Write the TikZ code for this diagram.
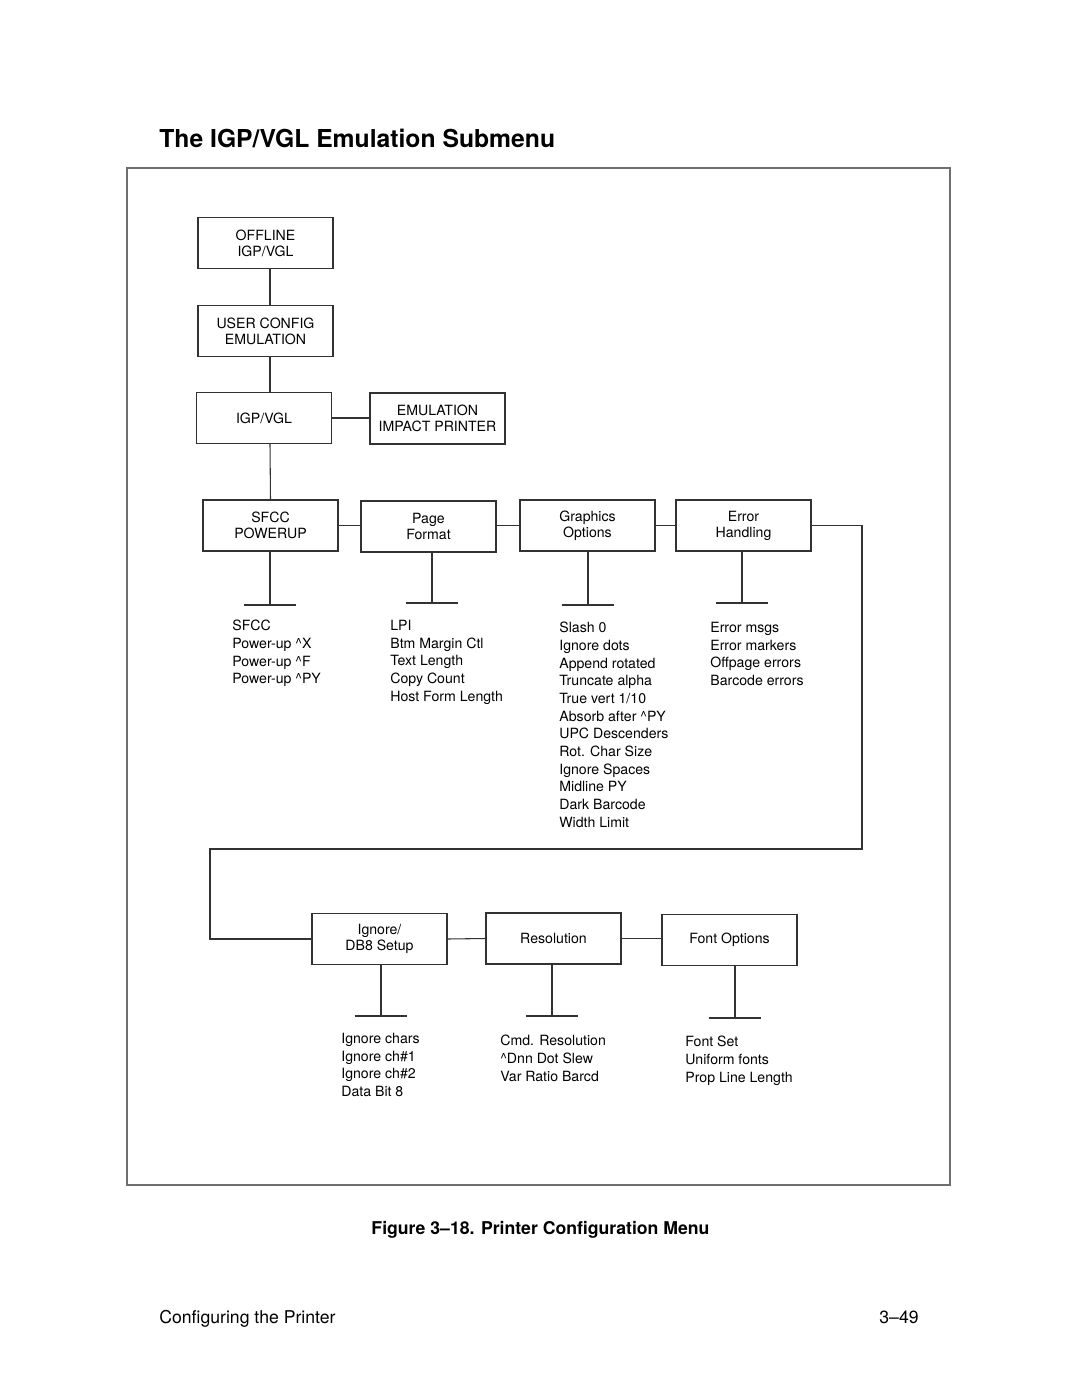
\documentclass[tikz,border=0pt]{standalone}
\usepackage{fontspec}
\setmainfont{TeX Gyre Heros}
\usetikzlibrary{positioning}
\usepackage{xcolor}
\definecolor{linegray}{RGB}{50,50,50}
\definecolor{framegray}{RGB}{110,110,110}
\tikzset{menubox/.style={draw=linegray, line width=0.6pt, minimum width=76.5pt, minimum height=28.9pt, inner sep=0pt, align=center, font=\fontsize{8}{9.1}\selectfont},itemlist/.style={anchor=north west, inner sep=0pt, align=left, font=\fontsize{8}{10}\selectfont}}
\tikzset{link/.style={draw=linegray, line width=0.6pt}}

\begin{document}
\begin{tikzpicture}[x=0.5667pt, y=-0.5667pt]
        \useasboundingbox (0,0) rectangle (1080,1397);
        % Page texts
        \node[anchor=base west, inner sep=0pt, font=\fontsize{14}{16}\selectfont\bfseries] (title) at (159,147) {The IGP/VGL Emulation Submenu};
        \node[anchor=base, inner sep=0pt, font=\fontsize{10}{12}\selectfont\bfseries] (caption) at (540.5,1234) {Figure 3--18. Printer Configuration Menu};
        \node[anchor=base west, inner sep=0pt, font=\fontsize{10}{12}\selectfont] (footleft) at (159,1323) {Configuring the Printer};
        \node[anchor=base east, inner sep=0pt, font=\fontsize{10}{12}\selectfont] (footright) at (919,1323) {3--49};
        % Frame
        \draw[framegray, line width=0.8pt] (127,168) rectangle (950,1185);
        % Menu boxes
        \node[menubox] (offline) at (265.5,243) {OFFLINE\\IGP/VGL};
        \node[menubox] (userconfig) at (265.5,331) {USER CONFIG\\EMULATION};
        \node[menubox] (igpvgl) at (264,418) {IGP/VGL};
        \node[menubox] (emulation) at (437.5,418.5) {EMULATION\\IMPACT PRINTER};
        \node[menubox] (sfcc) at (270.5,525.5) {SFCC\\POWERUP};
        \node[menubox] (pageformat) at (428.5,526.5) {Page\\Format};
        \node[menubox] (graphics) at (587.5,525.5) {Graphics\\Options};
        \node[menubox] (errors) at (743.5,525.5) {Error\\Handling};
        \node[menubox] (ignore) at (379.5,939) {Ignore/\\DB8 Setup};
        \node[menubox] (resolution) at (553.5,938.5) {Resolution};
        \node[menubox] (fontopts) at (729.5,940) {Font Options};
        % Tees
        \coordinate (sfcctee) at (270,605);
        \coordinate (pagetee) at (432,603);
        \coordinate (graphtee) at (588,605);
        \coordinate (errtee) at (742,603);
        \coordinate (ignoretee) at (381,1016);
        \coordinate (restee) at (552,1016);
        \coordinate (fonttee) at (735,1018);
        \coordinate (loopright) at (862,849);
        \coordinate (loopleft) at (210,849);
        % Connectors
        \draw[link] (offline.south -| sfcctee) -- (userconfig.north -| sfcctee);
        \draw[link] (userconfig.south -| sfcctee) -- (igpvgl.north -| sfcctee);
        \draw[link] (igpvgl.south -| sfcctee) -- (sfcc.north);
        \draw[link] (igpvgl.east) -- (igpvgl.east -| emulation.west);
        \draw[link] (sfcc.east) -- (pageformat.west |- sfcc.east);
        \draw[link] (pageformat.east |- graphics.west) -- (graphics.west);
        \draw[link] (graphics.east) -- (errors.west);
        \draw[link] (errors.east) -| (loopright) -- (loopleft) |- (ignore.west);
        \draw[link] (ignore.east) -- (resolution.west);
        \draw[link] (resolution.east) -- (fontopts.west |- resolution.east);
        \foreach \menu/\tee in {sfcc/sfcctee, pageformat/pagetee, graphics/graphtee, errors/errtee, ignore/ignoretee, resolution/restee, fontopts/fonttee} {
            \draw[link] (\menu.south -| \tee) -- (\tee);
            \draw[link] ([xshift=-15pt]\tee) -- ([xshift=15pt]\tee);
        }
        % Item lists
        \node[itemlist] (sfccitems) at (232,620) {SFCC\\Power-up \textasciicircum X\\Power-up \textasciicircum F\\Power-up \textasciicircum PY};
        \node[itemlist] (pageitems) at (390,620) {LPI\\Btm Margin Ctl\\Text Length\\Copy Count\\Host Form Length};
        \node[itemlist] (graphitems) at (559,622) {Slash 0\\Ignore dots\\Append rotated\\Truncate alpha\\True vert 1/10\\Absorb after \textasciicircum PY\\UPC Descenders\\Rot. Char Size\\Ignore Spaces\\Midline PY\\Dark Barcode\\Width Limit};
        \node[itemlist] (erritems) at (710,622) {Error msgs\\Error markers\\Offpage errors\\Barcode errors};
        \node[itemlist] (ignoreitems) at (341,1033) {Ignore chars\\Ignore ch\#1\\Ignore ch\#2\\Data Bit 8};
        \node[itemlist] (resitems) at (500,1035) {Cmd. Resolution\\\textasciicircum Dnn Dot Slew\\Var Ratio Barcd};
        \node[itemlist] (fontitems) at (685,1036) {Font Set\\Uniform fonts\\Prop Line Length};
    \end{tikzpicture}
\end{document}
